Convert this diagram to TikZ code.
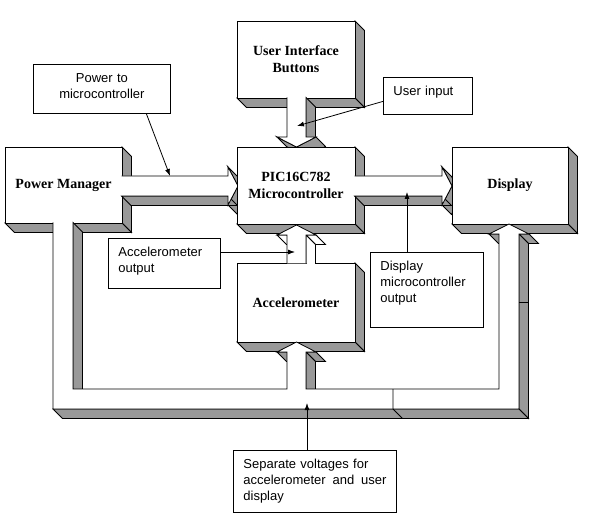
\documentclass[tikz,border=0pt]{standalone}
\usepackage{fontspec}
\setmainfont{Liberation Sans}
\newfontfamily\boxfont{Liberation Serif}
\usepackage{tikz}
\usepackage{xcolor}
\usetikzlibrary{arrows.meta}

\definecolor{shade}{RGB}{153,153,153}
\def\dz{9.5}

% raised shape: side faces towards bottom right, then the front face
% #1 side colour, #2 outline x/y (the closing edge is left open)
\newcommand\solidshape[2][shade]{%
  \foreach \x/\y [count=\i] in {#2}{%
    \coordinate (s\i) at (\x,\y);
    \ifnum\i>1
      \pgfmathsetmacro\facing{(\y-\lasty)-(\x-\lastx)}%
      \ifdim\facing pt>0pt
        \filldraw[fill=#1] (\lastx,\lasty) -- (\x,\y) -- (\x+\dz,\y+\dz)
          -- (\lastx+\dz,\lasty+\dz) -- cycle;
      \fi
    \fi
    \xdef\lastx{\x}\xdef\lasty{\y}\xdef\sn{\i}%
  }%
  \fill[white] (s1) \foreach \i in {2,...,\sn}{ -- (s\i)} -- cycle;
  \draw (s1) \foreach \i in {2,...,\sn}{ -- (s\i)};
}

\begin{document}
\begin{tikzpicture}[x=1pt,y=-1pt,line width=0.8pt,
  boxtext/.style={font=\boxfont\bfseries\fontsize{14}{17}\selectfont, align=center},
  callout/.style={draw, fill=white, anchor=north west, inner xsep=10pt, inner ysep=8pt,
    text height=10pt, align=left, font=\fontsize{13}{16}\selectfont},
  pointer/.style={-{Latex[length=7pt,width=5pt]}}]
\useasboundingbox (0,0) rectangle (590,532);
% power manager and buttons
\solidshape{5/147, 122/147, 122/223, 5/223, 5/147}
\solidshape{237/21, 355/21, 355/98, 237/98, 237/21}
% power -> micro, buttons -> micro
\solidshape{121.5/176, 228/176, 228/167, 238/186, 228/205, 228/196, 121.5/196}
\solidshape{306/97.5, 306/137, 316/137, 296.5/147, 277/137, 287/137, 287/97.5}
% microcontroller and its output
\solidshape{237/147, 355/147, 355/224, 237/224, 237/147}
\solidshape{354.5/176, 442/176, 442/167, 452/186, 442/205, 442/196, 354.5/196}
\solidshape{452/147, 568/147, 568/224, 452/224, 452/147}
% accelerometer
\solidshape{237/263, 355/263, 355/342, 237/342, 237/263}
\scope
\clip (200,150) rectangle (400,263.5);
\solidshape[white]{287/263.5, 287/235, 277/235, 296.5/225, 316/235, 306/235, 306/263.5}
\endscope
% supply band
\solidshape{73/222.5, 73/389, 287/389, 287/352, 277/352, 296.5/342, 316/352,
  306/352, 306/389, 499/389, 499/234, 489/234, 509/224, 529/234, 519/234,
  519/409, 53/409, 53/222.5}
\draw (393,389) -- (393,409) -- (402.5,418.5);
\draw (519,302) -- (528.5,302);

% labels
\node[boxtext] (power) at (63.5,185) {Power Manager};
\node[boxtext] (ui) at (296,59.5) {User Interface\\Buttons};
\node[boxtext] (pic) at (296,185.5) {PIC16C782\\Microcontroller};
\node[boxtext] (display) at (510,185.5) {Display};
\node[boxtext] (accel) at (296,302.5) {Accelerometer};

% notes
\node[callout, text width=117pt, align=center, text depth=23pt] (pwrnote) at (33,64) {Power to\\microcontroller};
\node[callout, text width=69pt, text depth=11pt] (uinote) at (383,77) {User input};
\node[callout, text width=92pt, text depth=24pt] (accnote) at (108,238) {Accelerometer\\output};
\node[callout, text width=93pt, text depth=49pt] (dspnote) at (370,252) {Display\\microcontroller\\output};
\node[callout, text width=143pt, text depth=36pt] (volnote) at (233,450) {Separate voltages for\\accelerometer\hfill and\hfill user\\display};

\coordinate (pwrtip) at (170,176);
\coordinate (uitip) at (297,126);
\coordinate (acctip) at (295,252);
\coordinate (dsptip) at (407,192);
\coordinate (voltip) at (307,403);
\draw[pointer] ([xshift=44.5pt]pwrnote.south) -- (pwrtip);
\draw[pointer] ([yshift=-5.5pt]uinote.west) -- (uitip);
\draw[pointer] (accnote.east |- acctip) -- (acctip);
\draw[pointer] (dspnote.north -| dsptip) -- (dsptip);
\draw[pointer] (volnote.north -| voltip) -- (voltip);
\end{tikzpicture}
\end{document}
